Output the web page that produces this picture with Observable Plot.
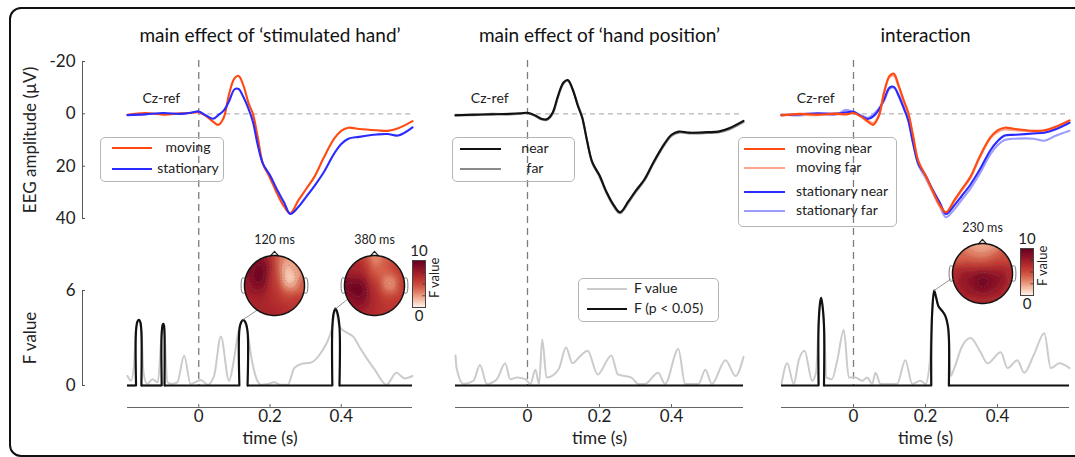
<!DOCTYPE html>
<html>
<head>
<meta charset="utf-8">
<script src="https://cdn.jsdelivr.net/npm/d3@7"></script>
<script src="https://cdn.jsdelivr.net/npm/@observablehq/plot@0.6"></script>
<style>
  html, body { margin: 0; padding: 0; background: #fff; }
  #fig { position: relative; width: 1075px; height: 457px; overflow: hidden; font-family: Lato, "Open Sans", sans-serif; color: #222; }
  #fig svg { position: absolute; left: 0; top: 0; overflow: visible; }
  .frame { position: absolute; left: 9px; top: 7px; width: 1100px; height: 446px; border: 2px solid #111; border-radius: 12px; }
  .legend { position: absolute; border: 1px solid #b5b5b5; border-radius: 5px; }
  .lg-line { position: absolute; height: 2px; }
  .lg-text { position: absolute; font-size: 14px; line-height: 16px; white-space: nowrap; color: #222; }
</style>
</head>
<body>
<div id="fig"><div class="frame"></div></div>
<script>
// ---------------- data ----------------
// ERP time base (s)
const tEEG = [-0.2,-0.15,-0.1,-0.05,-0.02,0,0.02,0.04,0.055,0.07,0.085,0.1,0.112,0.125,0.14,0.152,0.165,0.18,0.2,0.22,0.24,0.257,0.28,0.3,0.325,0.35,0.38,0.4,0.42,0.45,0.5,0.53,0.56,0.6];

// main effect of 'stimulated hand' (µV at Cz)
const moving     = [0.4,-0.3,0.3,-0.2,-0.3,-0.6,0.8,3.0,4.2,1.5,-7.5,-13.5,-14.5,-11,-4,0,8.5,19,24.5,30.5,35.5,38,33,29,24,17,9.5,6.5,5.3,5.8,6.3,6.5,5.5,2.8];
const stationary = [0.5,0.2,-0.3,0,-0.5,-0.9,0.6,1.9,0.5,-1.2,-4.8,-9.3,-9.5,-6.5,-1.8,3,11.5,19,23.5,29,34,38.3,35.5,32,27.5,22.5,15.2,11.5,9.5,8.8,7.9,7.7,8.3,5.2];

// main effect of 'hand position'
const near = [0.6,0.3,0.2,0,-0.2,-0.4,0.5,2.0,2.0,-0.5,-7,-12,-12.9,-9.5,-3,1.5,10,18.5,23.5,30,35,37.6,33.5,29.5,25,18.5,11.5,8,6.8,7.2,7,6.8,5.5,2.7];
const far  = [0.4,0.5,0,0.2,0,-0.2,0.7,2.2,2.3,0,-6.5,-11.6,-12.6,-9.5,-3.4,1.2,10,18.8,24,30.5,35.5,38,34,30,25.5,19,12,8.4,7.2,7.5,7.3,7.1,6,3.2];

// interaction
const movingNear     = [0.6,0,0.3,0,0.2,-0.3,1,3,4.2,1,-8,-14.5,-15.3,-11,-5,-0.5,8,18,23.5,29.5,35,37.6,33,29,24,16.5,9,6.3,5.3,5.8,6.5,6.3,5,2.5];
const movingFar      = [0.3,0.4,0.5,-0.3,0,-0.5,0.8,2.5,3.5,0.5,-8.5,-14,-14.5,-10.5,-4.5,0,8.5,18.5,24,30,35.5,38,33.5,29.5,24.5,17,9.5,7,6,6.3,6.8,6.8,5.5,2.8];
const stationaryNear = [0.5,0.2,-0.2,0,-0.6,-0.8,0.8,2,1,-1.5,-5.5,-10,-10.3,-7,-2,2.5,11,19,23.5,29,34,38.3,35,31.5,27,21.5,14,10.5,8.3,8,7.5,7.2,6,3.4];
const stationaryFar  = [0.3,0.6,0,0.3,-1.5,-0.5,0.5,1.5,0.2,-2,-5,-9.5,-10,-7.5,-2.5,2,10.5,19.5,24.5,30,35.5,39.5,36.5,33,28.5,23,15.5,12,10,9.5,9.5,10.3,8.5,6.5];

// F values over time, [t (s), F]
const fHand = [[-0.2,0.6],[-0.19,0.3],[-0.182,1.2],[-0.176,3.5],[-0.168,4.15],[-0.161,3.4],[-0.155,0.8],[-0.145,0.1],[-0.13,0.4],[-0.115,0.2],[-0.104,3.3],[-0.1,3.9],[-0.096,3.2],[-0.088,0.2],[-0.075,0.1],[-0.06,0.2],[-0.041,1.9],[-0.023,0.1],[0.006,0.35],[0.025,0.05],[0.043,0.6],[0.062,3.1],[0.085,0.3],[0.1,1.8],[0.111,3.4],[0.125,4.1],[0.137,3.4],[0.146,2.0],[0.161,0.5],[0.175,0.05],[0.195,0.1],[0.212,0.2],[0.23,0.05],[0.25,0.05],[0.268,1.1],[0.287,1.35],[0.315,1.45],[0.344,2.1],[0.367,3.1],[0.375,3.7],[0.384,4.85],[0.395,3.7],[0.419,3.3],[0.433,3.1],[0.452,2.4],[0.475,1.6],[0.494,1.0],[0.527,0.05],[0.555,0.8],[0.578,0.45],[0.6,0.6]];
const fPosition = [[-0.2,1.9],[-0.197,1.1],[-0.178,0.1],[-0.15,0.3],[-0.132,1.3],[-0.113,0.1],[-0.085,0.4],[-0.062,1.4],[-0.048,0.4],[-0.029,0.5],[-0.006,0.4],[0.008,0.1],[0.022,1.0],[0.032,0.1],[0.041,2.9],[0.053,0.5],[0.074,0.7],[0.088,1.1],[0.107,2.4],[0.125,1.4],[0.144,1.8],[0.167,2.2],[0.195,0.7],[0.233,1.9],[0.251,0.7],[0.289,0.5],[0.307,0.1],[0.326,0.1],[0.363,0.8],[0.382,0.1],[0.419,2.3],[0.438,0.1],[0.475,0.1],[0.494,1.0],[0.512,0.1],[0.55,1.6],[0.578,0.6],[0.6,1.8]];
const fInteraction = [[-0.2,0.1],[-0.184,1.4],[-0.166,0.1],[-0.152,1.6],[-0.136,2.2],[-0.115,0.3],[-0.104,0.8],[-0.097,3.8],[-0.09,5.54],[-0.082,3.8],[-0.075,0.5],[-0.06,0.4],[-0.045,1.6],[-0.027,3.5],[-0.013,0.5],[0.005,0.5],[0.024,0.3],[0.038,0.5],[0.052,0.1],[0.061,0.8],[0.075,0.1],[0.093,0.1],[0.121,0.1],[0.144,1.6],[0.163,0.1],[0.186,0.3],[0.2,0.1],[0.212,1.5],[0.219,4.8],[0.224,6.0],[0.236,5.0],[0.255,4.4],[0.265,3.0],[0.27,0.6],[0.28,1.1],[0.3,2.4],[0.325,3.0],[0.353,2.1],[0.372,1.4],[0.409,2.1],[0.428,1.1],[0.455,1.6],[0.474,0.8],[0.502,2.0],[0.53,3.3],[0.548,1.1],[0.572,1.4],[0.6,1.1]];

// significant stretches (p < 0.05), [t, F]
const sigHand = [
  [[-0.176,0],[-0.176,3.5],[-0.172,4.05],[-0.168,4.15],[-0.164,4.0],[-0.161,3.4],[-0.161,0]],
  [[-0.104,0],[-0.104,3.3],[-0.101,3.85],[-0.099,3.9],[-0.097,3.7],[-0.096,3.2],[-0.096,0]],
  [[0.114,0],[0.114,3.5],[0.119,4.0],[0.125,4.15],[0.131,4.0],[0.137,3.4],[0.137,0]],
  [[0.375,0],[0.375,3.7],[0.379,4.6],[0.384,4.85],[0.389,4.6],[0.395,3.7],[0.395,0]]
];
const sigPosition = [];
const sigInteraction = [
  [[-0.097,0],[-0.097,3.8],[-0.093,5.2],[-0.09,5.54],[-0.087,5.2],[-0.082,3.8],[-0.082,0]],
  [[0.216,0],[0.216,2.5],[0.219,4.8],[0.224,6.0],[0.229,5.6],[0.236,5.0],[0.245,4.75],[0.255,4.4],[0.262,3.8],[0.265,3.0],[0.265,0]]
];

// scalp topographies: electrode layout (unit head, nose up) and F values
const elecName = ["Fp1","Fpz","Fp2","F7","F3","Fz","F4","F8","FC3","FCz","FC4","T7","C3","Cz","C4","T8","CP3","CPz","CP4","P7","P3","Pz","P4","P8","O1","Oz","O2"];
const elecX = [-0.3,0,0.3,-0.73,-0.38,0,0.38,0.73,-0.45,0,0.45,-0.95,-0.48,0,0.48,0.95,-0.45,0,0.45,-0.73,-0.38,0,0.38,0.73,-0.3,0,0.3];
const elecY = [0.9,0.95,0.9,0.55,0.5,0.48,0.5,0.55,0.25,0.24,0.25,0,0,0,0,0,-0.25,-0.24,-0.25,-0.55,-0.5,-0.48,-0.5,-0.55,-0.9,-0.95,-0.9];
const topo120 = [8.5,5,2.5, 8.5,10,5.5,1,3, 10,5.5,0.3, 7.5,9,6,1.5,4.5, 7.5,6,4.5, 7,7,6.5,6,6, 7,7,6.5];
const topo380 = [6,1.5,4.5, 7,6.5,3.5,4.5,6, 8,5.5,3, 9,10,6,1.5,6, 10,6.5,4.5, 8,8.5,6.5,6,6, 7,6.5,6];
const topo230 = [2.5,2,2.5, 4,3.5,3,4,5, 6,6,6.5, 6.5,8,9,8,6.5, 8.5,10,9, 7,8,9,8,6.5, 6.5,7,6.5];

const topoLabels  = ["120 ms", "380 ms", "230 ms"];
const topoValues  = [topo120, topo380, topo230];
const topoPanel   = [0, 0, 2];
const topoCenter  = [[0.214, 6.32], [0.493, 6.32], [0.358, 7.07]];   // (s, F) of the host panel
const topoPeak    = [[0.125, 4.15], [0.384, 4.85], [0.224, 6.0]];
const topoLinkDeg = [125, 153, 170];
const topoLinkR   = [1.0, 1.0, 1.07];
const topoHasBar  = [false, true, true];

// ---------------- layout & style ----------------
const W = 1075, H = 457;
const font = "Lato, 'Open Sans', sans-serif";
const panelX = [[127, 412], [455, 743], [781, 1069]];
const eegTop = 61, eegBottom = 218;
const fTop = 290, fZero = 385, xAxisY = 407;
const fLow = -(xAxisY - fZero) * 6 / (fZero - fTop);
const tDomain = [-0.2, 0.6];

const C = {
  moving: "#ff4a12", stationary: "#2b2bff",
  movingFar: "#ffa48a", stationaryFar: "#9c9cff",
  near: "#111111", far: "#8a8a8a",
  fGray: "#cbcbcb", sig: "#111111"
};
const heat = d3.interpolateRgbBasis(["#fff5f0", "#f6bba0", "#e07a5f", "#cc4535", "#b2282c", "#8c1026", "#650020"]);
const colorScale = {type: "linear", domain: [0, 10], interpolate: heat};

const panels = [
  {title: "main effect of \u2018stimulated hand\u2019", yAxis: true,
   series: [{v: moving, c: C.moving}, {v: stationary, c: C.stationary}],
   f: fHand, sig: sigHand},
  {title: "main effect of \u2018hand position\u2019", yAxis: false,
   series: [{v: far, c: C.far}, {v: near, c: C.near}],
   f: fPosition, sig: sigPosition},
  {title: "interaction", yAxis: false,
   series: [{v: stationaryFar, c: C.stationaryFar}, {v: movingFar, c: C.movingFar},
            {v: stationaryNear, c: C.stationary}, {v: movingNear, c: C.moving}],
   f: fInteraction, sig: sigInteraction}
];

const fig = document.getElementById("fig");
const fPlots = [];

panels.forEach((p, i) => {
  const [x0, x1] = panelX[i];
  const pxPerS = (x1 - x0) / (tDomain[1] - tDomain[0]);
  const axisDx = 82 - x0;

  // ---- ERP traces ----
  const pxPerUV = (eegBottom - eegTop) / 60;
  const vBottom = (fZero - (eegTop + 20 * pxPerUV)) / pxPerUV; // dashed onset line runs down to F = 0
  const eegMarks = [
    Plot.ruleX([0], {y1: -20.4, y2: vBottom, stroke: "#7d7d7d", strokeWidth: 1.3, strokeDasharray: "7,5"}),
    Plot.ruleY([0], {x1: 0, x2: 0.6, stroke: "#b5b5b5", strokeWidth: 1.1, strokeDasharray: "5,4"})
  ];
  p.series.forEach(s => {
    eegMarks.push(Plot.line(tEEG, {x: d => d, y: (d, k) => s.v[k], stroke: s.c, strokeWidth: 2.1, curve: "catmull-rom"}));
  });
  eegMarks.push(
    Plot.text({length: 1}, {x: [-0.105], y: [-5.7], text: ["Cz-ref"], fontSize: 14, fill: "#222"}),
    Plot.text({length: 1}, {x: [0.2], text: [p.title], frameAnchor: "top", dy: -33, fontSize: 19, fill: "#111"})
  );
  if (p.yAxis) {
    const yt = [-20, 0, 20, 40];
    eegMarks.push(
      Plot.ruleX([-0.2], {y1: -20, y2: 40, dx: axisDx, stroke: "#555", strokeWidth: 1}),
      Plot.ruleY(yt, {x1: -0.2, x2: -0.2 + 3 / pxPerS, dx: axisDx, stroke: "#555", strokeWidth: 1}),
      Plot.axisY({ticks: yt, tickFormat: d => String(d), tickSize: 0, tickPadding: 7, dx: axisDx, fontSize: 17, fill: "#222"}),
      Plot.text({length: 1}, {y: [10], text: ["EEG amplitude (\u00b5V)"], frameAnchor: "left", textAnchor: "middle", dx: 30 - x0, rotate: -90, fontSize: 17, fill: "#222"})
    );
  }
  const eeg = Plot.plot({
    width: W, height: H,
    marginLeft: x0, marginRight: W - x1, marginTop: eegTop, marginBottom: H - eegBottom,
    x: {domain: tDomain, axis: null},
    y: {domain: [-20, 40], reverse: true, axis: null},
    style: {background: "transparent", fontFamily: font},
    marks: eegMarks
  });
  fig.appendChild(eeg);

  // ---- F statistics ----
  const gaps = [];
  let start = tDomain[0];
  p.sig.forEach(seg => { gaps.push([start, seg[0][0]]); start = seg[seg.length - 1][0]; });
  gaps.push([start, tDomain[1]]);

  const fMarks = [
    Plot.line(p.f, {x: d => d[0], y: d => d[1], stroke: C.fGray, strokeWidth: 2, curve: "monotone-x"}),
    Plot.ruleY(gaps, {y: 0, x1: d => d[0], x2: d => d[1], stroke: C.sig, strokeWidth: 2.2})
  ];
  p.sig.forEach(seg => fMarks.push(Plot.line(seg, {x: d => d[0], y: d => d[1], stroke: C.sig, strokeWidth: 2.2, curve: "catmull-rom"})));
  fMarks.push(
    Plot.ruleY([fLow], {x1: tDomain[0], x2: tDomain[1], stroke: "#666", strokeWidth: 1}),
    Plot.ruleX([0, 0.2, 0.4], {y1: fLow, y2: fLow + 3 * 6 / (fZero - fTop), stroke: "#666", strokeWidth: 1}),
    Plot.axisX({ticks: [0, 0.2, 0.4], tickFormat: d => d === 0 ? "0" : d.toFixed(1), tickSize: 0, tickPadding: 2, fontSize: 17, fill: "#222"}),
    Plot.text({length: 1}, {x: [0.2], text: ["time (s)"], frameAnchor: "bottom", dy: 36, fontSize: 17.5, fill: "#222"})
  );
  if (p.yAxis) {
    const ft = [0, 6];
    fMarks.push(
      Plot.ruleX([-0.2], {y1: 0, y2: 6, dx: axisDx, stroke: "#555", strokeWidth: 1}),
      Plot.ruleY(ft, {x1: -0.2, x2: -0.2 + 3 / pxPerS, dx: axisDx, stroke: "#555", strokeWidth: 1}),
      Plot.axisY({ticks: ft, tickFormat: d => String(d), tickSize: 0, tickPadding: 7, dx: axisDx, fontSize: 17, fill: "#222"}),
      Plot.text({length: 1}, {y: [3], text: ["F value"], frameAnchor: "left", textAnchor: "middle", dx: 30 - x0, rotate: -90, fontSize: 17, fill: "#222"})
    );
  }
  const fp = Plot.plot({
    width: W, height: H,
    marginLeft: x0, marginRight: W - x1, marginTop: fTop, marginBottom: H - xAxisY,
    x: {domain: tDomain, axis: null},
    y: {domain: [fLow, 6], axis: null},
    style: {background: "transparent", fontFamily: font},
    marks: fMarks
  });
  fig.appendChild(fp);
  fPlots.push(fp);
});

// ---------------- scalp maps ----------------
const SIGMA = 0.2;
function field(vals) {
  return (x, y) => {
    const r = Math.hypot(x, y);
    if (r > 0.999) { x *= 0.999 / r; y *= 0.999 / r; }
    let sw = 0, s = 0;
    for (let k = 0; k < elecX.length; k++) {
      const dx = x - elecX[k], dy = y - elecY[k];
      const w = Math.exp(-(dx * dx + dy * dy) / (2 * SIGMA * SIGMA));
      sw += w; s += w * vals[k];
    }
    return s / sw;
  };
}
const circle = d3.range(0, 361, 3).map(a => [Math.cos(a * Math.PI / 180), Math.sin(a * Math.PI / 180)]);
const nose = [[-0.13, 0.992], [0, 1.14], [0.13, 0.992]];
const earR = [[0.99, 0.24], [1.06, 0.26], [1.1, 0.18], [1.1, -0.18], [1.06, -0.26], [0.99, -0.24]];
const earL = earR.map(([x, y]) => [-x, y]);
const U = 30; // pixels per head radius

topoLabels.forEach((label, i) => {
  const host = fPlots[topoPanel[i]];
  const sx = host.scale("x"), sy = host.scale("y");
  const cx = sx.apply(topoCenter[i][0]), cy = sy.apply(topoCenter[i][1]);
  const px = sx.apply(topoPeak[i][0]), py = sy.apply(topoPeak[i][1]);
  const a = topoLinkDeg[i] * Math.PI / 180, rr = topoLinkR[i];
  const link = [[(px - cx) / U, -(py - cy) / U], [rr * Math.cos(a), -rr * Math.sin(a)]];
  const fn = field(topoValues[i]);

  const tp = Plot.plot({
    width: 90, height: 108, margin: 0,
    x: {domain: [-1.5, 1.5], axis: null},
    y: {domain: [-1.6, 2.0], axis: null},
    color: colorScale,
    style: {background: "transparent", fontFamily: font},
    marks: [
      Plot.line(link, {x: d => d[0], y: d => d[1], stroke: "#8a8a8a", strokeWidth: 0.9}),
      Plot.raster({x1: -1, x2: 1, y1: -1, y2: 1, fill: fn, pixelSize: 1}),
      Plot.contour({x1: -1, x2: 1, y1: -1, y2: 1, value: fn, thresholds: d3.range(1, 10, 1), fill: "none", stroke: "#6f6f6f", strokeWidth: 0.6, strokeOpacity: 0.75, strokeDasharray: "1.5,1.5"}),
      Plot.line(earL, {x: d => d[0], y: d => d[1], stroke: "#777", strokeWidth: 1, curve: "catmull-rom"}),
      Plot.line(earR, {x: d => d[0], y: d => d[1], stroke: "#777", strokeWidth: 1, curve: "catmull-rom"}),
      Plot.line(nose, {x: d => d[0], y: d => d[1], stroke: "#222", strokeWidth: 1.2}),
      Plot.line(circle, {x: d => d[0], y: d => d[1], stroke: "#111", strokeWidth: 1.5}),
      Plot.text({length: 1}, {x: [0], y: [1.52], text: [label], fontSize: 12.5, fill: "#222"})
    ]
  });
  // keep the map and its contour lines inside the scalp outline
  const xs = tp.scale("x"), ys = tp.scale("y");
  const clipId = "scalp-" + i;
  const svg = d3.select(tp);
  svg.insert("defs", ":first-child").append("clipPath").attr("id", clipId)
    .append("circle").attr("cx", xs.apply(0)).attr("cy", ys.apply(0)).attr("r", xs.apply(1) - xs.apply(0));
  svg.selectAll('g[aria-label="raster"], g[aria-label="contour"]').attr("clip-path", `url(#${clipId})`);
  tp.style.left = (cx - xs.apply(0)) + "px";
  tp.style.top = (cy - ys.apply(0)) + "px";
  fig.appendChild(tp);

  if (topoHasBar[i]) {
    const cb = Plot.plot({
      width: 70, height: 100, marginLeft: 10, marginRight: 47, marginTop: 20, marginBottom: 33,
      x: {domain: [0, 1], axis: null},
      y: {domain: [0, 10], axis: null},
      color: colorScale,
      style: {background: "transparent", fontFamily: font},
      marks: [
        Plot.raster({x1: 0, x2: 1, y1: 0, y2: 10, fill: (x, y) => y, pixelSize: 1}),
        Plot.ruleY([2.5, 5, 7.5], {x1: 0.8, x2: 1, stroke: "#333", strokeWidth: 0.8}),
        Plot.frame({stroke: "#444", strokeWidth: 1}),
        Plot.text({length: 1}, {x: [0.5], y: [10], text: ["10"], dy: -9, fontSize: 15, fill: "#222"}),
        Plot.text({length: 1}, {x: [0.5], y: [0], text: ["0"], dy: 9, fontSize: 15, fill: "#222"}),
        Plot.text({length: 1}, {y: [6.3], text: ["F value"], frameAnchor: "right", textAnchor: "middle", dx: 9, rotate: -90, fontSize: 13, fill: "#222"})
      ]
    });
    cb.style.left = (cx + 38 - 10) + "px";
    cb.style.top = (cy - 25 - 20) + "px";
    fig.appendChild(cb);
  }
});

// ---------------- legends ----------------
function legend(box, rows) {
  const b = document.createElement("div");
  b.className = "legend";
  Object.assign(b.style, {left: box[0] + "px", top: box[1] + "px", width: box[2] + "px", height: box[3] + "px"});
  fig.appendChild(b);
  rows.forEach(r => {
    const l = document.createElement("div");
    l.className = "lg-line";
    Object.assign(l.style, {left: r.lx[0] + "px", width: (r.lx[1] - r.lx[0]) + "px", top: (r.y - 1) + "px", background: r.color});
    fig.appendChild(l);
    const t = document.createElement("div");
    t.className = "lg-text";
    t.textContent = r.label;
    if (r.center != null) {
      Object.assign(t.style, {left: (r.center - 60) + "px", width: "120px", textAlign: "center", top: (r.y - 9) + "px"});
    } else {
      Object.assign(t.style, {left: r.tx + "px", top: (r.y - 9) + "px"});
    }
    fig.appendChild(t);
  });
}
legend([100, 137, 122, 43], [
  {label: "moving", color: C.moving, y: 148, lx: [112, 152], center: 188},
  {label: "stationary", color: C.stationary, y: 169, lx: [112, 152], center: 188}
]);
legend([452, 137, 121, 43], [
  {label: "near", color: C.near, y: 149, lx: [460, 501], center: 535},
  {label: "far", color: C.far, y: 169, lx: [460, 501], center: 535}
]);
legend([738, 137, 157, 88], [
  {label: "moving near", color: C.moving, y: 149, lx: [744, 785], tx: 796},
  {label: "moving far", color: C.movingFar, y: 168, lx: [744, 785], tx: 796},
  {label: "stationary near", color: C.stationary, y: 192, lx: [744, 785], tx: 796},
  {label: "stationary far", color: C.stationaryFar, y: 211, lx: [744, 785], tx: 796}
]);
legend([578, 278, 139, 42], [
  {label: "F value", color: C.fGray, y: 289, lx: [587, 627], tx: 634},
  {label: "F (p < 0.05)", color: C.sig, y: 309, lx: [587, 627], tx: 634}
]);
</script>
</body>
</html>
